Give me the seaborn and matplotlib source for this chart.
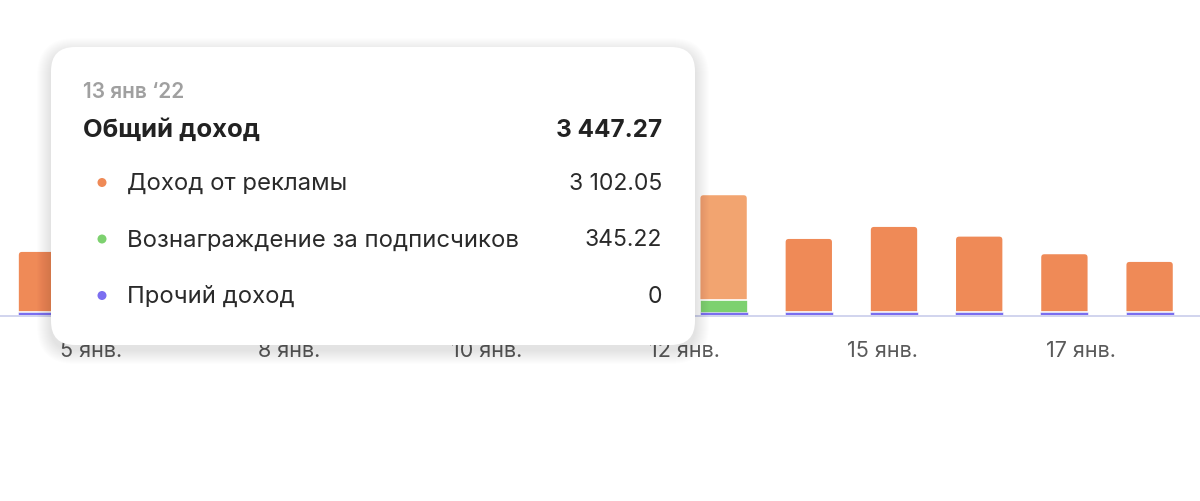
import numpy as np
import pandas as pd
import matplotlib
matplotlib.use("Agg")
from matplotlib import pyplot as plt
from matplotlib.patches import FancyBboxPatch, Ellipse
import seaborn as sns

# daily revenue, 5 - 18 jan 2022 (values for 6-12 jan are hidden by the tooltip, estimated)
days = ['5', '6', '7', '8', '9', '10', '11', '12', '13', '14', '15', '16', '17', '18']
ads = [1787, 1700, 1850, 1950, 2100, 1900, 1800, 2400, 3102.05, 2167, 2519, 2235, 1719, 1494]
subs = [0, 0, 0, 0, 0, 0, 0, 0, 345.22, 0, 0, 0, 0, 0]
other = [0, 0, 0, 0, 0, 0, 0, 0, 0, 0, 0, 0, 0, 0]
tick_labels = ['5 янв.', '8 янв.', '10 янв.', '12 янв.', '15 янв.', '17 янв.']

tip_date = '13 янв ‘22'
tip_total = '3 447.27'
tip_rows = ['Доход от рекламы', 'Вознаграждение за подписчиков', 'Прочий доход']
tip_values = ['3 102.05', '345.22', '0']

ORANGE = '#EF8A57'
ORANGE_HL = '#F2A470'
GREEN = '#7DD16F'
PURPLE = '#7B6EF0'
highlight = '13'

sns.set_theme(style='white')
plt.rcParams['font.family'] = ['Inter', 'DejaVu Sans']

df = pd.DataFrame({'day': days, 'ads': ads, 'subs': subs, 'other': other})
min_strip = 85  # purple strip is always drawn, even for 0
df['p'] = np.maximum(df['other'], min_strip)
df['pg'] = df['p'] + df['subs']
df['total'] = df['pg'] + df['ads']

W, H = 1200, 501
fig = plt.figure(figsize=(W / 100, H / 100), dpi=100)
ax = fig.add_axes([0, 186 / H, 1, 315 / H])

bar_w = 48 / 85.2
pal = {d: (ORANGE_HL if d == highlight else ORANGE) for d in days}
sns.barplot(data=df, x='day', y='total', hue='day', palette=pal, legend=False,
            width=bar_w, saturation=1, linewidth=0, ax=ax)
n_orange = len(ax.patches)

# replace the orange bars by boxes with rounded tops
ytop = 9226
xscale = 85.2
ysc = ytop / 315
for p in list(ax.patches[:n_orange]):
    x0, w, h = p.get_x(), p.get_width(), p.get_height()
    fb = FancyBboxPatch((x0, -400), w, h + 400,
                        boxstyle='round,pad=0,rounding_size=%f' % (4 / xscale),
                        mutation_aspect=ysc * xscale,
                        facecolor=p.get_facecolor(), edgecolor='white', linewidth=1.2,
                        zorder=2)
    ax.add_patch(fb)
    p.remove()

sns.barplot(data=df, x='day', y='pg', color=GREEN, width=bar_w, saturation=1,
            edgecolor='white', linewidth=1.2, ax=ax, zorder=3)
sns.barplot(data=df, x='day', y='p', color=PURPLE, width=bar_w, saturation=1,
            edgecolor='white', linewidth=0.4, ax=ax, zorder=4)

ax.axhline(-28, color='#C9CDEB', lw=1.2, clip_on=False, zorder=5)
ax.set_xlim(-42 / xscale, (W - 42) / xscale)
ax.set_ylim(0, ytop)
ax.set_yticks([])
ax.set_xlabel('')
ax.set_ylabel('')
ax.set_xticks(np.linspace(0.575, 12.19, len(tick_labels)))
ax.set_xticklabels(tick_labels, fontsize=15.5, color='#5A5A5A')
ax.tick_params(axis='x', length=0, pad=19)
for s in ax.spines.values():
    s.set_visible(False)


# tooltip, in figure pixels
def fx(x):
    return x / W


def fy(y):
    return 1 - y / H


bx0, by0, bx1, by1 = 51, 47, 695, 345
asp = W / H
for i in range(14, 0, -1):
    sh = FancyBboxPatch((fx(bx0 - i), fy(by1 + i + 5)), (bx1 - bx0 + 2 * i) / W,
                        (by1 - by0 + 2 * i) / H,
                        boxstyle='round,pad=0,rounding_size=%f' % ((24 + i) / W),
                        mutation_aspect=asp, transform=fig.transFigure,
                        facecolor='black', edgecolor='none', alpha=0.009, zorder=10)
    fig.add_artist(sh)
box = FancyBboxPatch((fx(bx0), fy(by1)), (bx1 - bx0) / W, (by1 - by0) / H,
                     boxstyle='round,pad=0,rounding_size=%f' % (24 / W),
                     mutation_aspect=asp, transform=fig.transFigure,
                     facecolor='white', edgecolor='none', zorder=11)
fig.add_artist(box)

fig.text(fx(83), fy(98), tip_date, fontsize=15, color='#A0A0A0', weight='semibold',
         va='baseline', zorder=12)
fig.text(fx(83), fy(137), 'Общий доход', fontsize=18.5, color='#222222', weight='bold',
         va='baseline', zorder=12)
fig.text(fx(662), fy(137), tip_total, fontsize=17.5, color='#222222', weight='bold',
         va='baseline', ha='right', zorder=12)

dot_colors = [ORANGE, GREEN, PURPLE]
for i, (lab, val) in enumerate(zip(tip_rows, tip_values)):
    base = 190 + 56.5 * i
    fig.text(fx(127), fy(base), lab, fontsize=17.2, color='#2A2A2A', va='baseline', zorder=12)
    fig.text(fx(662), fy(base), val, fontsize=16.5, color='#2A2A2A', va='baseline',
             ha='right', zorder=12)
    fig.add_artist(Ellipse((fx(102), fy(base - 7.5)), 9 / W, 9 / H, transform=fig.transFigure,
                           facecolor=dot_colors[i], edgecolor='none', zorder=12))

fig.savefig('out.png', dpi=100, facecolor='white')
